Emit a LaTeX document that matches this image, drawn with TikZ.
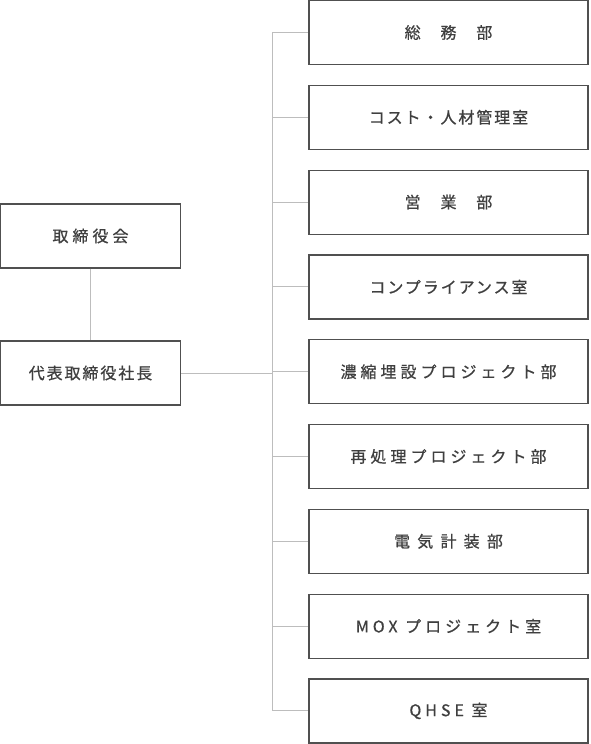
\documentclass[tikz,border=0pt]{standalone}
\usepackage{fontspec}
\newfontfamily\jpfont[FakeBold=0.7]{Noto Sans CJK JP}
\usepackage{xcolor}
\definecolor{chart-text}{HTML}{3F3F3F}
\definecolor{chart-frame}{HTML}{505050}
\definecolor{chart-line}{HTML}{BDBDBD}
\usepackage{tikz}

\newcommand{\tracked}[2]{{\addfontfeature{LetterSpace=#1}#2}}

\tikzset{
    unit/.style={draw=chart-frame, line width=1.2pt, fill=white, text=chart-text,
                 font=\jpfont\fontsize{16}{16}\selectfont, inner sep=0pt, minimum height=64pt},
    board/.style={unit, minimum width=180pt},
    dept/.style={unit, minimum width=279pt},
    link/.style={draw=chart-line, line width=1pt}
}

\begin{document}
\begin{tikzpicture}[x=1pt, y=-1pt]

    % Canvas
    \useasboundingbox (0, 0) rectangle (590, 744);

    % Board and president
    \node[board] (board) at (90.5, 236) {\tracked{25}{取締役会}};
    \node[board] (president) at (90.5, 373) {\tracked{12}{代表取締役社長}};

    % Departments
    \foreach \i/\ls/\txt in {1/12/総　務　部, 2/12/コスト・人材管理室, 3/12/営　業　部,
                             4/12/コンプライアンス室, 5/25/濃縮埋設プロジェクト部,
                             6/25/再処理プロジェクト部, 7/45/電気計装部,
                             8/25/MOX プロジェクト室, 9/25/QHSE 室} {
        \node[dept] (dept\i) at (448.5, {32.5+84.8*(\i-1)}) {\tracked{\ls}{\txt}};
    }

    % Lines
    \coordinate (spine) at (272, 373);
    \draw[link] (board) -- (president);
    \draw[link] (president) -- (spine);
    \draw[link] (spine |- dept1.west) -- (spine |- dept9.west);
    \foreach \i in {1,...,9} {
        \draw[link] (spine |- dept\i.west) -- (dept\i.west);
    }

\end{tikzpicture}
\end{document}
